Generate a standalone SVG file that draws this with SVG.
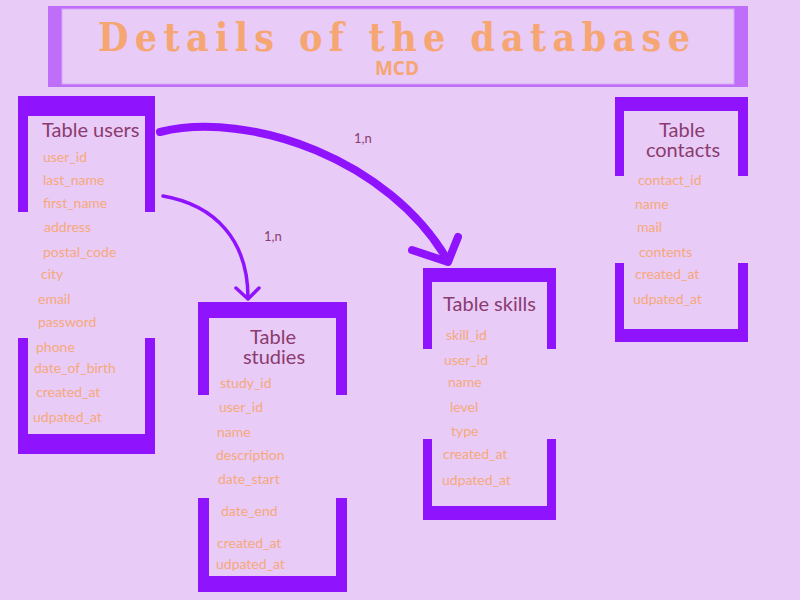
<svg xmlns="http://www.w3.org/2000/svg" width="800" height="600" viewBox="0 0 800 600">
<defs>
<style>
.bg{fill:#E8CBF6}
.frame{fill:#9013FE}
.ttl{font-family:Lato,"Open Sans",sans-serif;font-size:20px;fill:#8B3B6F}
.fld{font-family:Lato,"Open Sans",sans-serif;font-size:14px;fill:#F6A97B}
.card{font-family:Lato,"Open Sans",sans-serif;font-size:13px;fill:#8B3B6F}
.conn{fill:none;stroke:#9013FE;stroke-linecap:round;stroke-linejoin:round}
</style>
</defs>
<rect class="bg" x="0" y="0" width="800" height="600"/>
<g id="title">
<rect x="48" y="6" width="700" height="81" fill="#BF6EF9"/>
<rect x="62" y="9" width="672" height="75" fill="#E8CBF6" stroke="#D6A6F6" stroke-width="1"/>
<text x="98" y="51" textLength="592" lengthAdjust="spacing" font-family="'DejaVu Serif',serif" font-stretch="condensed" font-weight="bold" font-size="39" fill="#F5A673">Details of the database</text>
<text x="397" y="75" text-anchor="middle" font-family="'Open Sans','Noto Sans',sans-serif" font-weight="bold" font-size="19" fill="#F5A673">MCD</text>
</g>
<g id="connectors">
<path class="conn" stroke-width="8" d="M160,132 C250,110 390,160 448,261"/>
<polyline class="conn" stroke-width="8" points="412,250 448,262 458,237"/>
<path class="conn" stroke-width="3.5" d="M163,196 C215,205 248,240 248,298"/>
<polyline class="conn" stroke-width="3.5" points="236,288 248,299 259,288"/>
<text class="card" x="354" y="143">1,n</text>
<text class="card" x="264" y="241">1,n</text>
</g>
<g id="users">
<path class="frame" d="M18,96 H155 V212 H145 V116 H28 V212 H18 Z M18,338 H28 V434 H145 V338 H155 V454 H18 Z"/>
<text class="ttl" x="42" y="137">Table users</text>
<text class="fld" x="43" y="162">user_id</text>
<text class="fld" x="43" y="185">last_name</text>
<text class="fld" x="43" y="208">first_name</text>
<text class="fld" x="44" y="232">address</text>
<text class="fld" x="43" y="257">postal_code</text>
<text class="fld" x="41" y="279">city</text>
<text class="fld" x="38" y="304">email</text>
<text class="fld" x="38" y="327">password</text>
<text class="fld" x="36" y="352">phone</text>
<text class="fld" x="34" y="373">date_of_birth</text>
<text class="fld" x="36" y="397">created_at</text>
<text class="fld" x="33" y="422">udpated_at</text>
</g>
<g id="studies">
<path class="frame" d="M198,302 H347 V395 H336 V318 H209 V395 H198 Z M198,498 H209 V576 H336 V498 H347 V592 H198 Z"/>
<text class="ttl" x="273" y="344" text-anchor="middle">Table</text>
<text class="ttl" x="274" y="364" text-anchor="middle">studies</text>
<text class="fld" x="220" y="388">study_id</text>
<text class="fld" x="219" y="412">user_id</text>
<text class="fld" x="217" y="437">name</text>
<text class="fld" x="216" y="460">description</text>
<text class="fld" x="218" y="484">date_start</text>
<text class="fld" x="221" y="516">date_end</text>
<text class="fld" x="217" y="548">created_at</text>
<text class="fld" x="216" y="569">udpated_at</text>
</g>
<g id="skills">
<path class="frame" d="M423,268 H556 V349 H547 V282 H432 V349 H423 Z M423,439 H432 V506 H547 V439 H556 V520 H423 Z"/>
<text class="ttl" x="443" y="311">Table skills</text>
<text class="fld" x="446" y="340">skill_id</text>
<text class="fld" x="444" y="365">user_id</text>
<text class="fld" x="448" y="387">name</text>
<text class="fld" x="450" y="412">level</text>
<text class="fld" x="451" y="436">type</text>
<text class="fld" x="443" y="459">created_at</text>
<text class="fld" x="442" y="485">udpated_at</text>
</g>
<g id="contacts">
<path class="frame" d="M615,97 H748 V176 H738 V111 H624 V176 H615 Z M615,263 H624 V329 H738 V263 H748 V342 H615 Z"/>
<text class="ttl" x="682" y="137" text-anchor="middle">Table</text>
<text class="ttl" x="683" y="157" text-anchor="middle">contacts</text>
<text class="fld" x="638" y="185">contact_id</text>
<text class="fld" x="635" y="209">name</text>
<text class="fld" x="637" y="232">mail</text>
<text class="fld" x="639" y="257">contents</text>
<text class="fld" x="635" y="279">created_at</text>
<text class="fld" x="633" y="304">udpated_at</text>
</g>
</svg>
